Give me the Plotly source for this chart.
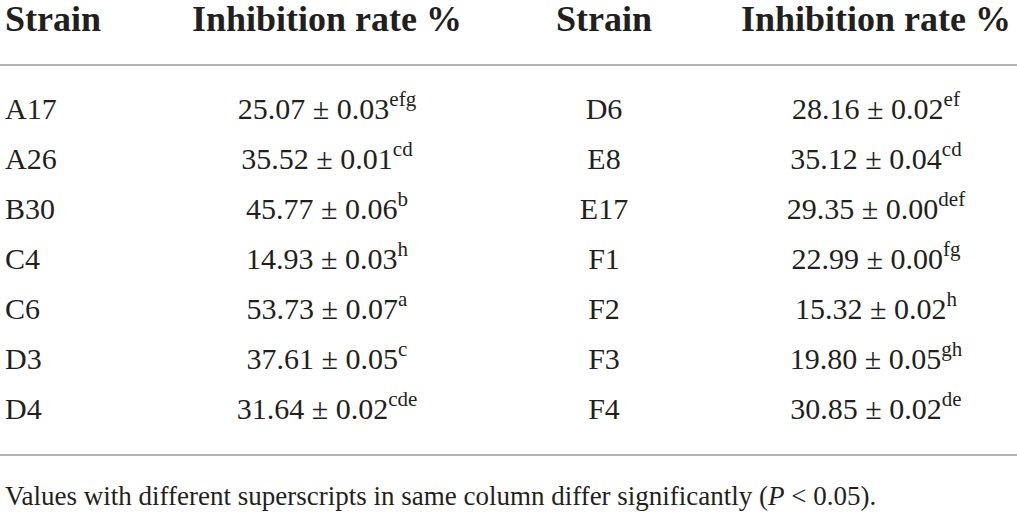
import plotly.graph_objects as go

# ---- data ----
header = ["Strain", "Inhibition rate %", "Strain", "Inhibition rate %"]
strains_left = ["A17", "A26", "B30", "C4", "C6", "D3", "D4"]
mean_left = ["25.07", "35.52", "45.77", "14.93", "53.73", "37.61", "31.64"]
sd_left = ["0.03", "0.01", "0.06", "0.03", "0.07", "0.05", "0.02"]
sup_left = ["efg", "cd", "b", "h", "a", "c", "cde"]

strains_right = ["D6", "E8", "E17", "F1", "F2", "F3", "F4"]
mean_right = ["28.16", "35.12", "29.35", "22.99", "15.32", "19.80", "30.85"]
sd_right = ["0.02", "0.04", "0.00", "0.00", "0.02", "0.05", "0.02"]
sup_right = ["ef", "cd", "def", "fg", "h", "gh", "de"]

footnote = "Values with different superscripts in same column differ significantly (<i>P</i> < 0.05)."

# ---- layout constants ----
W, H = 1017, 518
FONT = "Liberation Serif"
TXT = "#231f20"
row0, row_step = 111, 50
header_y = 22
rule_top, rule_bottom = 65, 455
foot_y = 498
col_strain_l = 5      # left aligned
col_val_l = 327       # centered
col_strain_r = 604    # centered
col_val_r = 876       # centered
HS, BS, FS = 36, 30, 27


def fmt(m, s, sup):
    return f"{m} ± {s}<sup>{sup}</sup>"


n = len(strains_left)
ys = [row0 + i * row_step for i in range(n)]

fig = go.Figure()


def add_text(xs, yv, texts, pos, size):
    fig.add_trace(go.Scatter(
        x=xs, y=yv, mode="text", text=texts, textposition=pos,
        textfont=dict(family=FONT, size=size, color=TXT),
        cliponaxis=False, hoverinfo="skip", showlegend=False))


# header
add_text([col_strain_l], [header_y], [f"<b>{header[0]}</b>"], "middle right", HS)
add_text([col_val_l, col_strain_r, col_val_r], [header_y] * 3,
         [f"<b>{h}</b>" for h in header[1:]], "middle center", HS)

# body
add_text([col_strain_l] * n, ys, strains_left, "middle right", BS)
add_text([col_val_l] * n, ys,
         [fmt(m, s, p) for m, s, p in zip(mean_left, sd_left, sup_left)],
         "middle center", BS)
add_text([col_strain_r] * n, ys, strains_right, "middle center", BS)
add_text([col_val_r] * n, ys,
         [fmt(m, s, p) for m, s, p in zip(mean_right, sd_right, sup_right)],
         "middle center", BS)

# footnote
add_text([col_strain_l], [foot_y], [footnote], "middle right", FS)

for yy in (rule_top, rule_bottom):
    fig.add_shape(type="line", x0=0, x1=W, y0=yy, y1=yy, xref="x", yref="y",
                  line=dict(color="#9d9d9d", width=1.5))

fig.update_layout(
    width=W, height=H, margin=dict(l=0, r=0, t=0, b=0),
    paper_bgcolor="white", plot_bgcolor="white",
    xaxis=dict(range=[0, W], visible=False, fixedrange=True),
    yaxis=dict(range=[H, 0], visible=False, fixedrange=True),
)

fig.write_html(
    "out.html",
    config={"displayModeBar": False},
    post_script="document.body.style.margin='0';document.body.style.overflow='hidden';",
)
